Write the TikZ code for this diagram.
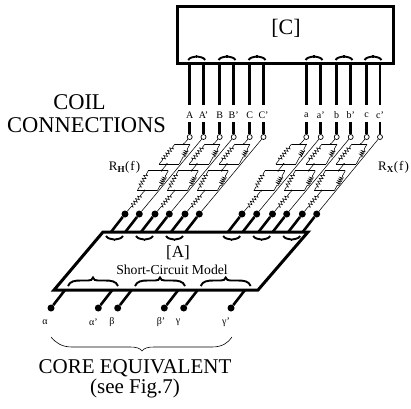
\documentclass[tikz,border=0pt]{standalone}
\usepackage{fontspec}
\setmainfont{Liberation Serif}
\newfontfamily\rfont[LetterSpace=8]{Liberation Serif}
\usetikzlibrary{decorations.pathmorphing}
\tikzset{
  x=1pt,y=-1pt,
  wirethick/.style={line width=2.6pt},
  thin wire/.style={line width=0.55pt},
  opendot/.style={circle,draw,fill=white,line width=0.7pt,inner sep=0pt,minimum size=5pt},
  blackdot/.style={circle,fill=black,inner sep=0pt,minimum size=7pt},
  tinydot/.style={circle,fill=black,inner sep=0pt,minimum size=2pt},
  lab/.style={inner sep=0pt,font=\fontsize{10}{10}\selectfont},
  brc/.style={line width=1.9pt},
  resist/.style={thin wire,decorate,decoration={zigzag,segment length=3.2pt,amplitude=1.8pt,pre length=#1,post length=#1}},
  resist/.default=4pt,
  induct/.style={thin wire,decorate,decoration={coil,segment length=2pt,amplitude=1.8pt,aspect=0.5,pre length=6pt,post length=6pt}},
  pics/topbrace/.style={code={
    \draw[brc] (-8.5,0) .. controls (-7,-2.8) and (-3,-3) .. (0,-3.6) .. controls (3,-3) and (7,-2.8) .. (8.5,0);
    \draw[line width=1.2pt] (0,-2.5) -- (0,-4.6);}},
  pics/lowbrace/.style={code={
    \draw[brc] (-8.5,0) .. controls (-7,2.8) and (-3,3) .. (0,3.6) .. controls (3,3) and (7,2.8) .. (8.5,0);
    \draw[line width=1.2pt] (0,2.5) -- (0,5);}},
}
\begin{document}
\begin{tikzpicture}
\useasboundingbox (0,0) rectangle (411,408);
% box C
\node[draw,line width=3pt,minimum width=216pt,minimum height=57pt,inner sep=0pt] (boxC) at (285,34.5) {};
\node[inner sep=0pt,font=\fontsize{22}{22}\selectfont] (labC) at (286,28) {[C]};
% phases
\foreach \n/\dx/\la/\lb/\xa/\xb/\ya/\yb in {
  1/0/A/A'/189.7/203.5/125/139.3,
  2/30/B/B'/219.7/233.7/155/169.3,
  3/60/C/C'/249.7/263.5/185/199.3,
  4/116.6/a/a'/306.3/320.7/242/256.7,
  5/147/b/b'/336.7/350.7/272.5/286.7,
  6/177/c/c'/366.7/380/302.3/316.7}{
  \coordinate (ua\n) at (\xa,63);
  \coordinate (ub\n) at (\xb,63);
  \coordinate (ea\n) at (\xa,105);
  \coordinate (eb\n) at (\xb,105);
  \draw[wirethick] (ua\n) -- (ea\n);
  \draw[wirethick] (ub\n) -- (eb\n);
  \node[lab] (ta\n) at (\xa,115) {\la};
  \node[lab] (tb\n) at (\xb,115) {\lb};
  \coordinate (fa\n) at (\xa,122);
  \coordinate (fb\n) at (\xb,122);
  \node[opendot] (ca\n) at (\xa,137) {};
  \node[opendot] (cb\n) at (\xb,137) {};
  \draw[wirethick] (fa\n) -- (ca\n.north);
  \draw[wirethick] (fb\n) -- (cb\n.north);
  \node[blackdot] (da\n) at (\ya,214) {};
  \node[blackdot] (db\n) at (\yb,214) {};
  \coordinate (ga\n) at ({\ya-14},232);
  \coordinate (gb\n) at ({\yb-14},232);
  \draw[wirethick] (da\n) -- (ga\n);
  \draw[wirethick] (db\n) -- (gb\n);
  \draw[thin wire] (cb\n) -- (db\n);
  % parallel blocks
  \begin{scope}[shift={(\dx,0)}]
    \node[tinydot] (n1\n) at (183.8,144) {};
    \node[tinydot] (n2\n) at (167,164) {};
    \node[tinydot] (n3\n) at (161.5,170.7) {};
    \node[tinydot] (n4\n) at (144.5,190.7) {};
    \coordinate (p1\n) at (175,144);
    \coordinate (p2\n) at (190,144);
    \coordinate (p3\n) at (159.3,164);
    \coordinate (p4\n) at (179.3,164);
    \coordinate (q1\n) at (148.3,170.7);
    \coordinate (q2\n) at (168.3,170.7);
    \coordinate (q3\n) at (137.3,190.7);
    \coordinate (q4\n) at (157.3,190.7);
  \end{scope}
  \draw[thin wire] (ca\n) -- (n1\n);
  \draw[thin wire] (p1\n) -- (p2\n);
  \draw[thin wire] (p3\n) -- (p4\n);
  \draw[resist] (p1\n) -- (p3\n);
  \draw[induct] (p2\n) -- (p4\n);
  \draw[thin wire] (n2\n) -- (n3\n);
  \draw[thin wire] (q1\n) -- (q2\n);
  \draw[thin wire] (q3\n) -- (q4\n);
  \draw[resist] (q1\n) -- (q3\n);
  \draw[induct] (q2\n) -- (q4\n);
  \draw[resist=5pt] (n4\n) -- (da\n);
}
% braces on box C
\foreach \x in {196.7,227,257,314,344,373}{
  \pic at (\x,60) {topbrace};
}
% text
\node[inner sep=0pt,font=\fontsize{22.5}{22.5}\selectfont] (coil) at (79.5,102.5) {COIL};
\node[inner sep=0pt,font=\fontsize{22.5}{22.5}\selectfont] (conn) at (86.5,125.5) {CONNECTIONS};
\node[inner sep=0pt,font=\fontsize{13}{13}\selectfont\rfont] (rh) at (124.5,167) {R\textsubscript{\bfseries H}(f)};
\node[inner sep=0pt,font=\fontsize{13}{13}\selectfont\rfont] (rx) at (393.5,167) {R\textsubscript{\bfseries X}(f)};
% box A
\draw[line width=3pt,line join=miter] (103,232) coordinate (a1) -- (308,232) coordinate (a2) -- (258,290) coordinate (a3) -- (54,290) coordinate (a4) -- cycle;
\node[inner sep=0pt,font=\fontsize{17}{17}\selectfont] (labA) at (178,253) {[A]};
\node[inner sep=0pt,font=\fontsize{13.7}{13.7}\selectfont] (scm) at (172,270) {Short-Circuit Model};
\foreach \x in {114.5,144.5,174.5,231.7,261.7,291.7}{
  \pic at (\x,236) {lowbrace};
}
% inner braces
\foreach \x in {93,160,225.7}{
  \draw[brc] ({\x-25},286) .. controls ({\x-23},281) and ({\x-18},280.5) .. ({\x-12},280.5) -- ({\x-5},280.5)
    .. controls ({\x-2},280.5) and ({\x-1},280) .. (\x,277.5) .. controls ({\x+1},280) and ({\x+2},280.5) .. ({\x+5},280.5)
    -- ({\x+12},280.5) .. controls ({\x+18},280.5) and ({\x+23},281) .. ({\x+25},286);
}
% legs
\foreach \n/\x/\t/\tx in {1/51/α/45,2/98.3/α'/93.5,3/117.7/β/112,4/164.3/β'/161,5/183.7/γ/178,6/231/γ'/226}{
  \node[blackdot] (leg\n) at (\x,308) {};
  \coordinate (legtop\n) at ({\x+14},290);
  \draw[wirethick] (leg\n) -- (legtop\n);
  \node[lab] (gr\n) at (\tx,322) {\t};
}
% big brace
\coordinate (bbl) at (51,337);
\coordinate (bbr) at (232,337);
\coordinate (bbt) at (142,351);
\draw[line width=0.6pt] (bbl) .. controls (56,343) and (62,347) .. (72,347) -- (130,347) .. controls (136,347) and (140,348) .. (bbt)
  .. controls (144,348) and (148,347) .. (154,347) -- (212,347) .. controls (222,347) and (228,343) .. (bbr);
\node[inner sep=0pt,font=\fontsize{21}{21}\selectfont] (core) at (135,368) {CORE EQUIVALENT};
\node[inner sep=0pt,font=\fontsize{21}{21}\selectfont] (see) at (135,388) {(see Fig.7)};
\end{tikzpicture}
\end{document}
